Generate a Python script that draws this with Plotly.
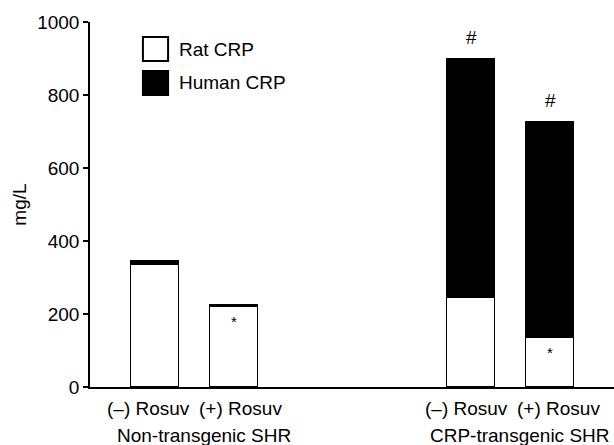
import plotly.graph_objects as go

# ---- data ----
categories = ["nt_minus", "nt_plus", "gap_a", "gap_b", "tg_minus", "tg_plus"]
bar_categories = ["nt_minus", "nt_plus", "tg_minus", "tg_plus"]
tick_labels = ["(–) Rosuv", "(+) Rosuv", "(–) Rosuv", "(+) Rosuv"]
rat_crp = [335, 218, 245, 135]
human_crp = [10, 8, 653, 592]
group_labels = ["Non-transgenic SHR", "CRP-transgenic SHR"]
series_names = ["Rat CRP", "Human CRP"]

FONT = "Liberation Sans, Arial, sans-serif"
FS = 19
LABEL_SHIFTS = [-7, 6, -5, 8]

fig = go.Figure()
fig.add_trace(go.Bar(x=bar_categories, y=rat_crp, name=series_names[0],
                     marker=dict(color="white", line=dict(color="black", width=1.3)),
                     width=0.61, showlegend=False))
fig.add_trace(go.Bar(x=bar_categories, y=human_crp, name=series_names[1],
                     marker=dict(color="black", line=dict(color="black", width=1.3)),
                     width=0.61, showlegend=False))

totals = [r + h for r, h in zip(rat_crp, human_crp)]
annotations = []
# significance marks
for cat, tot in [(bar_categories[2], totals[2]), (bar_categories[3], totals[3])]:
    annotations.append(dict(x=cat, y=tot, xref="x", yref="y", text="#", showarrow=False,
                            yanchor="bottom", yshift=9, font=dict(family=FONT, size=19, color="black")))
for cat, r in [(bar_categories[1], rat_crp[1]), (bar_categories[3], rat_crp[3])]:
    annotations.append(dict(x=cat, y=r, xref="x", yref="y", text="*", showarrow=False,
                            yanchor="top", yshift=-4, font=dict(family=FONT, size=15, color="black")))
# category labels under the bars
for cat, lab, sh in zip(bar_categories, tick_labels, LABEL_SHIFTS):
    annotations.append(dict(x=cat, y=0, xref="x", yref="paper", text=lab, showarrow=False,
                            yanchor="middle", yshift=-21, xshift=sh,
                            font=dict(family=FONT, size=FS, color="black")))
# group labels
annotations.append(dict(x=0.5, y=0, xref="x", yref="paper", text=group_labels[0], showarrow=False,
                        yanchor="middle", yshift=-48, xshift=9, font=dict(family=FONT, size=FS, color="black")))
annotations.append(dict(x=4.5, y=0, xref="x", yref="paper", text=group_labels[1], showarrow=False,
                        yanchor="middle", yshift=-48, xshift=9, font=dict(family=FONT, size=FS, color="black")))
# legend (drawn manually for large swatches)
annotations.append(dict(x=0.166, y=0.926, xref="paper", yref="paper", text=series_names[0], showarrow=False,
                        xanchor="left", yanchor="middle", font=dict(family=FONT, size=FS, color="black")))
annotations.append(dict(x=0.166, y=0.833, xref="paper", yref="paper", text=series_names[1], showarrow=False,
                        xanchor="left", yanchor="middle", font=dict(family=FONT, size=FS, color="black")))

shapes = [
    dict(type="rect", xref="paper", yref="paper", x0=0.101, x1=0.149, y0=0.893, y1=0.959,
         fillcolor="white", line=dict(color="black", width=2)),
    dict(type="rect", xref="paper", yref="paper", x0=0.101, x1=0.149, y0=0.800, y1=0.866,
         fillcolor="black", line=dict(color="black", width=2)),
]

fig.update_layout(
    barmode="stack",
    width=614, height=445,
    margin=dict(l=90, r=0, t=22, b=58),
    plot_bgcolor="white", paper_bgcolor="white",
    font=dict(family=FONT, size=FS, color="black"),
    annotations=annotations,
    shapes=shapes,
    showlegend=False,
    bargap=0,
)
fig.update_xaxes(
    type="category", categoryorder="array", categoryarray=categories,
    showticklabels=False,
    range=[-0.823, 5.81], automargin=False,
    showline=True, linecolor="black", linewidth=1.5,
    ticks="", showgrid=False, zeroline=False,
)
fig.update_yaxes(
    range=[0, 1000], tickvals=[0, 200, 400, 600, 800, 1000], automargin=False,
    showline=True, linecolor="black", linewidth=1.5,
    ticks="outside", ticklen=5, tickwidth=1.5, tickcolor="black",
    showgrid=False, zeroline=False,
    tickfont=dict(family=FONT, size=FS, color="black"),
    title=dict(text="mg/L", standoff=6, font=dict(family=FONT, size=FS, color="black")),
)

fig.write_html("out.html", config={"displayModeBar": False},
               post_script="document.body.style.margin='0';document.body.style.overflow='hidden';")
